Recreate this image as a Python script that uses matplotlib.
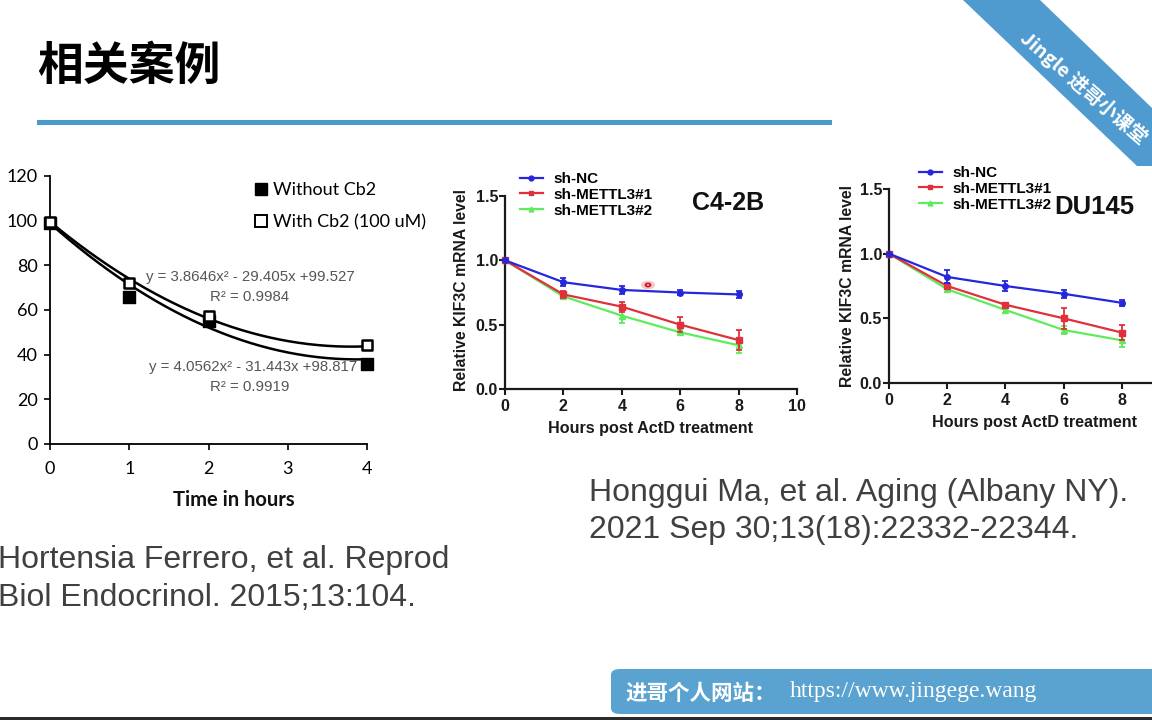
import matplotlib
matplotlib.use("Agg")
import numpy as np
import matplotlib.pyplot as plt
from matplotlib.lines import Line2D
from matplotlib.patches import Polygon, FancyBboxPatch, Rectangle, Circle

# ---- data: left panel (Ferrero et al.) ----
time_h = [0, 1, 2, 4]
without_cb2 = [99, 66, 55, 36]
with_cb2 = [99.5, 72, 57.5, 44.5]
# trendline coefficients printed on the chart (x^2, x, 1)
with_fit = [3.8646, -29.405, 99.527]
without_fit = [4.0562, -31.443, 98.817]

# ---- data: KIF3C mRNA decay (Ma et al.) ----
hours = [0, 2, 4, 6, 8]
series_names = ["sh-NC", "sh-METTL3#1", "sh-METTL3#2"]

c42b_nc = [1.0, 0.83, 0.77, 0.75, 0.735]
c42b_nc_err = [0, 0.03, 0.03, 0.02, 0.025]
c42b_m1 = [1.0, 0.735, 0.64, 0.50, 0.38]
c42b_m1_err = [0, 0.03, 0.04, 0.06, 0.08]
c42b_m2 = [1.0, 0.72, 0.57, 0.44, 0.34]
c42b_m2_err = [0, 0.02, 0.06, 0.02, 0.06]

du145_nc = [1.0, 0.82, 0.75, 0.69, 0.62]
du145_nc_err = [0, 0.05, 0.04, 0.03, 0.025]
du145_m1 = [1.0, 0.75, 0.605, 0.50, 0.39]
du145_m1_err = [0, 0.02, 0.015, 0.08, 0.06]
du145_m2 = [1.0, 0.725, 0.565, 0.41, 0.33]
du145_m2_err = [0, 0.02, 0.02, 0.03, 0.05]

W, H = 1152, 720
fig = plt.figure(figsize=(W / 100, H / 100), dpi=100)
fig.patch.set_facecolor("white")

CJK = ["Noto Sans CJK SC", "DejaVu Sans"]
ARIAL = "Liberation Sans"
BLUE_DECO = "#4f9bcf"


def fx(x):
    return x / W


def fy(y):
    return 1 - y / H


def px_rect(x0, y_top, x1, y_bot):
    return [x0 / W, 1 - y_bot / H, (x1 - x0) / W, (y_bot - y_top) / H]


# ---- slide decorations ----
fig.text(fx(37), fy(67), "相关案例", family=CJK, fontsize=33, fontweight="heavy",
         color="black", ha="left", va="center")
fig.add_artist(Rectangle((fx(37), fy(124.5)), fx(832 - 37), 5 / H,
                         transform=fig.transFigure, color="#4a9acb", lw=0))

band = Polygon([(fx(963), fy(0)), (fx(1040), fy(0)), (fx(1152), fy(108)),
                (fx(1152), fy(166)), (fx(1137), fy(166))],
               closed=True, transform=fig.transFigure, color=BLUE_DECO, lw=0)
fig.add_artist(band)
fig.text(fx(1084), fy(88), "Jingle 进哥小课堂", family=CJK, fontsize=14,
         fontweight="bold", color="white", rotation=-41, ha="center",
         va="center", rotation_mode="anchor")

footer = FancyBboxPatch((fx(611), fy(714)), fx(1160 - 611), 45 / H,
                        boxstyle="round,pad=0,rounding_size=0.008",
                        transform=fig.transFigure, color="#5aa2d0", lw=0)
fig.add_artist(footer)
fig.text(fx(625), fy(693), "进哥个人网站：", family=CJK, fontsize=15.5,
         fontweight="bold", color="white", ha="left", va="center")
fig.text(fx(790), fy(692), "https://www.jingege.wang", family="Liberation Serif",
         fontsize=17, color="white", ha="left", va="center")
fig.add_artist(Rectangle((0, 0), 1, 3 / H, transform=fig.transFigure,
                         color="#2b2b2b", lw=0))

# citations
cite_kw = dict(family=ARIAL, fontsize=23, color="#404040", ha="left", va="center")
fig.text(fx(-2), fy(560), "Hortensia Ferrero, et al. Reprod", **cite_kw)
fig.text(fx(-2), fy(598), "Biol Endocrinol. 2015;13:104.", **cite_kw)
fig.text(fx(589), fy(493), "Honggui Ma, et al. Aging (Albany NY).", **cite_kw)
fig.text(fx(589), fy(530), "2021 Sep 30;13(18):22332-22344.", **cite_kw)

# ---- left panel ----
ax1 = fig.add_axes(px_rect(50, 176, 367, 444))
xs = np.linspace(0, 4, 200)
ax1.plot(xs, np.polyval(with_fit, xs), color="black", lw=1.8, zorder=2)
ax1.plot(xs, np.polyval(without_fit, xs), color="black", lw=1.8, zorder=2)
ax1.scatter(time_h, without_cb2, marker="s", s=70, color="black",
            clip_on=False, zorder=3)
ax1.scatter(time_h, with_cb2, marker="s", s=55, facecolor="white",
            edgecolor="black", linewidth=1.8, clip_on=False, zorder=4)
ax1.set_xlim(0, 4)
ax1.set_ylim(0, 120)
ax1.set_xticks([0, 1, 2, 3, 4])
ax1.set_yticks(range(0, 121, 20))
for s in ["top", "right"]:
    ax1.spines[s].set_visible(False)
for s in ["left", "bottom"]:
    ax1.spines[s].set_linewidth(1.3)
ax1.tick_params(direction="out", length=4, width=1.2, labelsize=13, pad=5)
for lab in ax1.get_xticklabels() + ax1.get_yticklabels():
    lab.set_family("Lato")
ax1.tick_params(axis="x", pad=8)

h_without = Line2D([], [], marker="s", ls="none", mfc="black", mec="black", ms=8)
h_with = Line2D([], [], marker="s", ls="none", mfc="white", mec="black", ms=8, mew=1.4)
ax1.legend([h_without, h_with], ["Without Cb2", "With Cb2 (100 uM)"],
           loc="upper left", bbox_to_anchor=(fx(255), fy(182)),
           bbox_transform=fig.transFigure, frameon=False,
           prop={"family": "Lato", "size": 13}, handlelength=0.7,
           handletextpad=0.3, labelspacing=0.9, borderpad=0, borderaxespad=0)

eq_kw = dict(family=ARIAL, fontsize=10.8, color="#555555", ha="center", va="center")
fig.text(fx(250), fy(277), "y = 3.8646x² - 29.405x +99.527", **eq_kw)
fig.text(fx(250), fy(297), "R² = 0.9984", **eq_kw)
fig.text(fx(253), fy(367), "y = 4.0562x² - 31.443x +98.817", **eq_kw)
fig.text(fx(250), fy(387), "R² = 0.9919", **eq_kw)
fig.text(fx(234), fy(500), "Time in hours", family="Lato", fontsize=14.5,
         fontweight="bold", color="#111111", ha="center", va="center")

# ---- KIF3C panels ----
colors = ["#2626dc", "#e0303c", "#5cec5c"]
markers = ["o", "s", "^"]


def mrna_panel(rect, values, errors, xticks, title, title_xy, title_size,
               legend_xy, ylabel_xy, xlabel_xy):
    ax = fig.add_axes(rect)
    for i in [2, 1, 0]:
        ax.errorbar(hours, values[i], yerr=errors[i], color=colors[i],
                    marker=markers[i], ms=4, lw=1.6, elinewidth=1.3,
                    capsize=2.5, capthick=1.3, clip_on=False, zorder=3 + (2 - i))
    ax.set_xlim(0, 10)
    ax.set_ylim(0, 1.5)
    ax.set_xticks(xticks)
    ax.set_yticks([0, 0.5, 1.0, 1.5])
    ax.set_yticklabels(["0.0", "0.5", "1.0", "1.5"])
    for s in ["top", "right"]:
        ax.spines[s].set_visible(False)
    for s in ["left", "bottom"]:
        ax.spines[s].set_linewidth(1.6)
        ax.spines[s].set_color("#1a1a1a")
    ax.tick_params(direction="out", length=4, width=1.5, labelsize=11.5, pad=1,
                   colors="#1a1a1a")
    ax.tick_params(axis="x", pad=3)
    for lab in ax.get_xticklabels() + ax.get_yticklabels():
        lab.set_family(ARIAL)
        lab.set_fontweight("bold")
    handles = [Line2D([], [], color=colors[i], marker=markers[i], ms=3.5, lw=1.6)
               for i in range(3)]
    ax.legend(handles, series_names, loc="upper left", bbox_to_anchor=legend_xy,
              bbox_transform=fig.transFigure, frameon=False,
              prop={"family": ARIAL, "size": 11, "weight": "bold"},
              handlelength=1.5, handletextpad=0.7, labelspacing=0.12,
              borderpad=0, borderaxespad=0)
    fig.text(fx(title_xy[0]), fy(title_xy[1]), title, family=ARIAL,
             fontsize=title_size, fontweight="bold", color="#111111",
             ha="center", va="center")
    fig.text(fx(ylabel_xy[0]), fy(ylabel_xy[1]), "Relative KIF3C mRNA level",
             family=ARIAL, fontsize=11.3, fontweight="bold", color="#1a1a1a",
             rotation=90, ha="center", va="center")
    fig.text(fx(xlabel_xy[0]), fy(xlabel_xy[1]), "Hours post ActD treatment",
             family=ARIAL, fontsize=11.6, fontweight="bold", color="#1a1a1a",
             ha="center", va="center")
    return ax


ax2 = mrna_panel(px_rect(505, 196, 797, 389),
                 [c42b_nc, c42b_m1, c42b_m2],
                 [c42b_nc_err, c42b_m1_err, c42b_m2_err],
                 [0, 2, 4, 6, 8, 10],
                 "C4-2B", (728, 203), 18, (fx(520), fy(172)),
                 (462, 290), (651, 428))

ax3 = mrna_panel(px_rect(889, 189, 1180, 383),
                 [du145_nc, du145_m1, du145_m2],
                 [du145_nc_err, du145_m1_err, du145_m2_err],
                 [0, 2, 4, 6, 8],
                 "DU145", (1094, 207), 18.5, (fx(919), fy(166)),
                 (848, 286), (1035, 422))

# mouse pointer highlight seen on the slide
fig.add_artist(Circle((fx(648), fy(285)), 7 / W, transform=fig.transFigure,
                      color="#f4a0a8", alpha=0.6, lw=0))
fig.add_artist(Circle((fx(648), fy(285)), 2.5 / W, transform=fig.transFigure,
                      facecolor="none", edgecolor="#cc1020", lw=1.2))

fig.savefig("out.png", dpi=100)
